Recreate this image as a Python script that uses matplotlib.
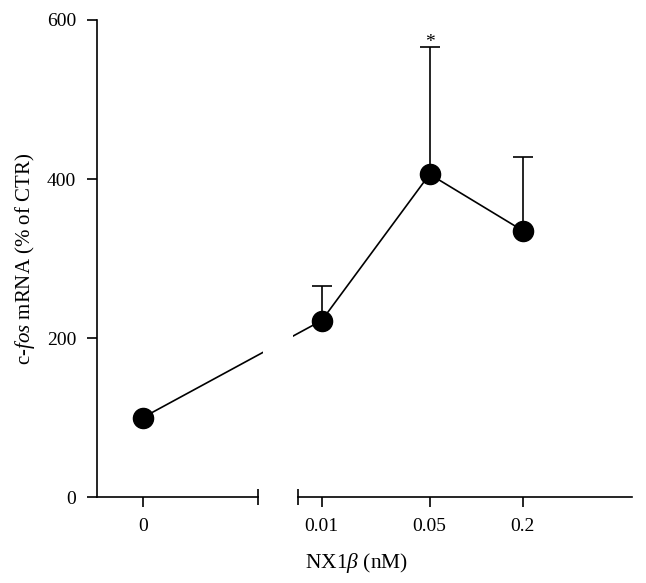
import matplotlib
matplotlib.use("Agg")
import matplotlib.pyplot as plt
from matplotlib.lines import Line2D

plt.rcParams['font.family'] = ['Liberation Serif', 'DejaVu Serif']
plt.rcParams['mathtext.fontset'] = 'custom'
plt.rcParams['mathtext.rm'] = 'Liberation Serif'
plt.rcParams['mathtext.it'] = 'Liberation Serif:italic'

# data
doses = ['0', '0.01', '0.05', '0.2']
x_pos = [0.0, 1.657, 2.657, 3.52]
means = [100, 222, 406, 335]
sem_up = [0, 43, 160, 93]
yticks = [0, 200, 400, 600]

fig = plt.figure(figsize=(6.46, 5.83), dpi=100)
ax = fig.add_axes([0.150, 0.1475, 0.828, 0.8182])

ax.set_xlim(-0.426, 4.53)
ax.set_ylim(0, 600)

# line through means
ax.plot(x_pos, means, color='black', lw=1.2, zorder=3)
# markers
ax.plot(x_pos, means, 'o', color='black', ms=14.5, zorder=5)
# upper error bars
ax.errorbar(x_pos[1:], means[1:], yerr=[[0]*3, sem_up[1:]], fmt='none',
            ecolor='black', elinewidth=1.2, capsize=7.2, capthick=1.2, zorder=4)

# axis break (mask)
brk_l, brk_r = 1.065, 1.435
ax.axvspan(1.11, 1.39, ymin=0, ymax=1, color='white', zorder=3.5, lw=0)
ax.spines['bottom'].set_visible(False)
ax.spines['top'].set_visible(False)
ax.spines['right'].set_visible(False)
for xs in [(-0.426, brk_l), (brk_r, 4.53)]:
    ax.add_line(Line2D(xs, [0, 0], color='black', lw=1.2, clip_on=False, zorder=6))
ax.plot([brk_l, brk_r], [0, 0], '|', color='black', ms=12, mew=1.2,
        clip_on=False, zorder=6)
ax.spines['left'].set_linewidth(1.2)

ax.set_xticks(x_pos)
ax.set_xticklabels(doses)
ax.set_yticks(yticks)
ax.tick_params(axis='both', direction='out', length=7, width=1.2,
               labelsize=14, pad=8)

ax.text(x_pos[2], 566, '*', ha='center', va='baseline', fontsize=14)

ax.set_xlabel(r'NX1$\beta$ (nM)', fontsize=15.5)
ax.set_ylabel(r'c-$\mathit{fos}$ mRNA (% of CTR)', fontsize=15)
ax.xaxis.set_label_coords(0.486, -0.114)
ax.yaxis.set_label_coords(-0.112, 0.5)

fig.savefig('out.png', dpi=100, facecolor='white')
